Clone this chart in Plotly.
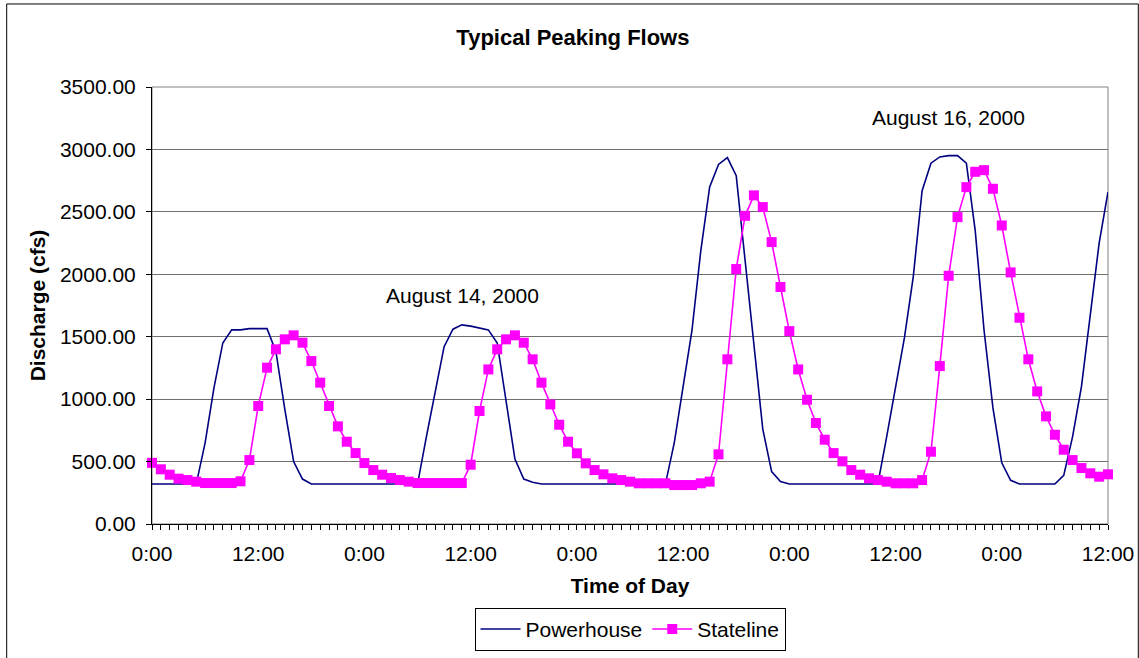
import plotly.graph_objects as go

# Hourly discharge readings (cfs), hour 0 = midnight of the first day
hours = list(range(0, 109))

powerhouse = [
    320, 320, 320, 320, 320, 320, 650, 1090, 1450, 1555, 1555, 1565,
    1565, 1565, 1380, 920, 500, 360, 320, 320, 320, 320, 320, 320,
    320, 320, 320, 320, 320, 320, 320, 700, 1070, 1420, 1560, 1595,
    1585, 1570, 1555, 1450, 980, 520, 360, 335, 320, 320, 320, 320,
    320, 320, 320, 320, 320, 320, 320, 320, 320, 320, 320, 650,
    1100, 1550, 2190, 2700, 2880, 2935, 2790, 2100, 1420, 760, 420, 340,
    320, 320, 320, 320, 320, 320, 320, 320, 320, 320, 320, 700,
    1090, 1490, 1980, 2670, 2890, 2940, 2950, 2950, 2890, 2350, 1550, 930,
    490, 350, 320, 320, 320, 320, 320, 390, 700, 1100, 1660, 2250,
    2660,
]

stateline = [
    490, 438, 395, 363, 352, 339, 328, 328, 328, 328, 342, 512,
    945, 1252, 1399, 1479, 1511, 1452, 1305, 1132, 945, 782, 659, 568,
    488, 432, 395, 368, 352, 339, 328, 328, 328, 328, 328, 328,
    475, 905, 1238, 1399, 1479, 1511, 1452, 1319, 1132, 958, 795, 659,
    566, 486, 432, 398, 366, 352, 339, 326, 326, 326, 326, 312,
    312, 312, 326, 339, 558, 1319, 2042, 2468, 2632, 2538, 2258, 1898,
    1545, 1238, 995, 809, 675, 568, 502, 432, 395, 366, 352, 339,
    326, 326, 326, 352, 579, 1265, 1988, 2458, 2698, 2821, 2834, 2685,
    2391, 2015, 1652, 1319, 1062, 862, 715, 595, 512, 448, 406, 379,
    398,
]

tick_hours = list(range(0, 109, 12))
tick_labels = ["0:00" if h % 24 == 0 else "12:00" for h in tick_hours]

date_labels = ["August 14, 2000", "August 16, 2000"]
date_label_x = [35.1, 90.0]
date_label_y = [1833, 3259]

FONT = "Arial, 'Liberation Sans', sans-serif"
FS = 20

fig = go.Figure()
fig.add_trace(go.Scatter(
    x=hours, y=powerhouse, name="Powerhouse", mode="lines",
    line=dict(color="#000080", width=1.6),
))
fig.add_trace(go.Scatter(
    x=hours, y=stateline, name="Stateline", mode="lines+markers",
    line=dict(color="#FF00FF", width=1.6),
    marker=dict(symbol="square", size=10, color="#FF00FF",
                line=dict(width=0)),
    cliponaxis=False,
))

for txt, xv, yv in zip(date_labels, date_label_x, date_label_y):
    fig.add_annotation(x=xv, y=yv, xref="x", yref="y", text=txt,
                       showarrow=False, font=dict(size=FS + 1, color="black"))

# plot-area frame (grey) and outer chart border (black)
fig.add_shape(type="rect", xref="paper", yref="paper", x0=0, x1=1, y0=0, y1=1,
              line=dict(color="#808080", width=1), layer="below")
fig.add_shape(type="rect", xref="paper", yref="paper",
              x0=-0.152, x1=1.0317, y0=-0.32, y1=1.19,
              line=dict(color="black", width=1))

fig.update_layout(
    width=1139, height=658,
    margin=dict(l=152, r=31, t=87, b=134, autoexpand=False),
    paper_bgcolor="white", plot_bgcolor="white",
    font=dict(family=FONT, size=FS, color="black"),
    title=dict(text="<b>Typical Peaking Flows</b>", xref="container",
               x=0.503, yref="container", y=1 - 37 / 658,
               xanchor="center", yanchor="middle",
               font=dict(size=22, family=FONT)),
    showlegend=True,
    legend=dict(orientation="h", x=0.5, xanchor="center", y=-0.192,
                yanchor="top", bordercolor="black", borderwidth=1,
                bgcolor="white", font=dict(size=FS + 1),
                itemwidth=40, tracegroupgap=0),
    xaxis=dict(
        range=[0, 108], tickmode="array", tickvals=tick_hours,
        ticktext=tick_labels, ticks="outside", ticklen=5,
        tickcolor="black", showline=True, linecolor="black",
        linewidth=1, showgrid=False, zeroline=False, automargin=False,
        ticklabelstandoff=6,
        minor=dict(tickmode="linear", tick0=0, dtick=1, ticks="outside",
                   ticklen=5, tickcolor="black", showgrid=False),
        title=dict(text="<b>Time of Day</b>", standoff=14,
                   font=dict(size=FS + 1)),
        tickfont=dict(size=FS + 1),
    ),
    yaxis=dict(
        range=[0, 3500], dtick=500, tickformat=".2f", ticks="outside",
        ticklen=5, tickcolor="black", showline=True, linecolor="black",
        linewidth=1, showgrid=True, gridcolor="#707070", gridwidth=1,
        zeroline=False, automargin=False, ticklabelstandoff=6,
        title=dict(text="<b>Discharge (cfs)</b>", standoff=8,
                   font=dict(size=FS + 1)),
        tickfont=dict(size=FS + 1),
    ),
)

fig.write_html("out.html")
